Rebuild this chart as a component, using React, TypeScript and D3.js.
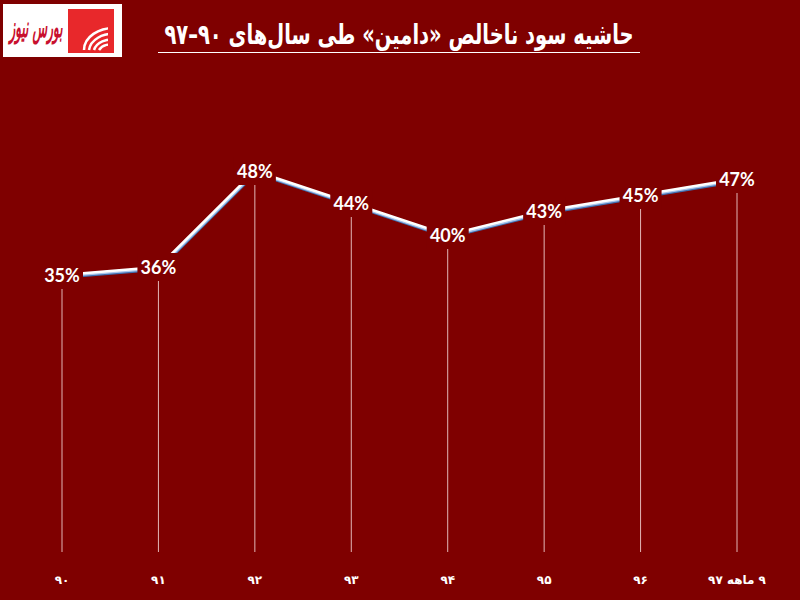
import React from "react";
import * as d3 from "d3";

const categories = ["۹۰", "۹۱", "۹۲", "۹۳", "۹۴", "۹۵", "۹۶", "۹ ماهه ۹۷"];
const margins = [35, 36, 48, 44, 40, 43, 45, 47];
const title = "حاشیه سود ناخالص «دامین» طی سال‌های ۹۰–۹۷";
const logoText = "بورس نیوز";

const W = 800;
const H = 600;
const BG = "#7f0000";

export default function App() {
  const x = d3.scalePoint<string>().domain(categories).range([62, 737]);
  const y = d3.scaleLinear().domain([0, 60]).range([555, 75]);

  const pts: [number, number][] = margins.map((v, i) => [x(categories[i])!, y(v)]);
  const line = d3.line<[number, number]>().x((d) => d[0]).y((d) => d[1]);
  const path = line(pts) || "";

  return (
    <svg
      width={W}
      height={H}
      style={{ position: "absolute", left: 0, top: 0, display: "block" }}
    >
      <rect x={0} y={0} width={W} height={H} fill={BG} />

      {/* logo */}
      <g>
        <rect x={3} y={4} width={119} height={53} fill="#ffffff" />
        <rect x={68} y={9} width={46} height={44} fill="#e8282b" />
        {[0, 1, 2, 3].map((k) => (
          <path
            key={k}
            d={`M ${116} ${28 + k * 6} A ${30 - k * 6} ${22 - k * 4} 0 0 0 ${84 + k * 5} ${50}`}
            fill="none"
            stroke="#ffffff"
            strokeWidth={2.5}
          />
        ))}
        <rect x={108} y={9} width={6} height={44} fill="#e8282b" />
        <g transform="translate(36,37) scale(0.75,1.8)">
          <text
            x={0}
            y={0}
            textAnchor="middle"
            fontFamily="DejaVu Sans"
            fontWeight="bold"
            fontStyle="italic"
            fontSize={16}
            fill="#c8102e"
            direction="rtl"
          >
            {logoText}
          </text>
        </g>
      </g>

      {/* title */}
      <g transform="translate(399,44) scale(0.78,1.12)">
        <text
          x={0}
          y={0}
          textAnchor="middle"
          fontFamily="DejaVu Sans"
          fontWeight="bold"
          fontSize={25}
          fill="#ffffff"
          direction="rtl"
        >
          {title}
        </text>
      </g>
      <line x1={158} x2={640} y1={52.5} y2={52.5} stroke="#ffffff" strokeWidth={1} />

      {/* drop lines */}
      {pts.map((p, i) => (
        <line
          key={"d" + i}
          x1={p[0]}
          x2={p[0]}
          y1={p[1]}
          y2={y(0) - 3}
          stroke="#f3d6d6"
          strokeOpacity={0.85}
          strokeWidth={1}
        />
      ))}

      {/* line with 3D look */}
      <path d={path} fill="none" stroke="#3f6fb0" strokeWidth={3} transform="translate(0.5,2.2)" />
      <path d={path} fill="none" stroke="#a9c6ec" strokeWidth={3} transform="translate(0.3,1.1)" />
      <path d={path} fill="none" stroke="#ffffff" strokeWidth={2.6} />

      {/* data labels */}
      {pts.map((p, i) => (
        <g key={"l" + i}>
          <rect x={p[0] - 21} y={p[1] - 14} width={42} height={28} fill={BG} />
          <text
            x={p[0]}
            y={p[1] + 6.5}
            textAnchor="middle"
            fontFamily="Lato"
            fontWeight="bold"
            fontSize={18}
            fill="#ffffff"
          >
            {margins[i] + "%"}
          </text>
        </g>
      ))}

      {/* category labels */}
      {categories.map((c, i) => (
        <text
          key={"c" + i}
          x={x(c)!}
          y={584}
          textAnchor="middle"
          fontFamily="DejaVu Sans"
          fontWeight="bold"
          fontSize={12}
          letterSpacing={2}
          fill="#ffffff"
          direction="rtl"
        >
          {c}
        </text>
      ))}
    </svg>
  );
}
